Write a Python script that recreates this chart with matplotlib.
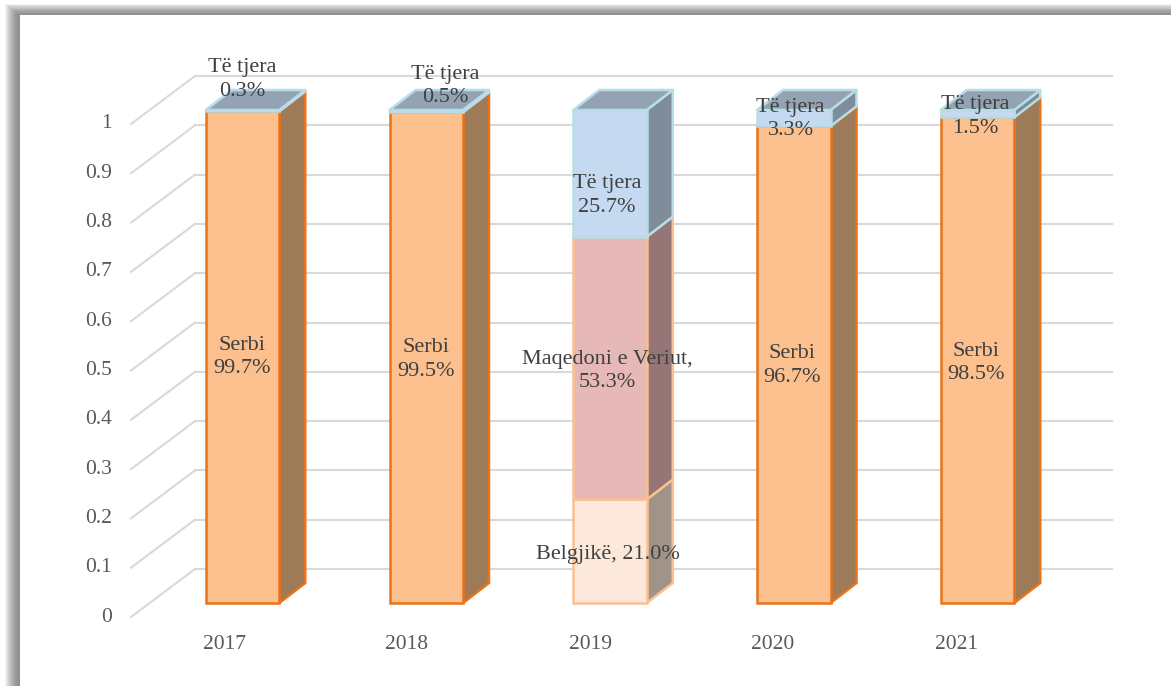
import numpy as np
import matplotlib
matplotlib.use("Agg")
import matplotlib.pyplot as plt
from matplotlib.patches import Polygon, Rectangle

plt.rcParams['font.family'] = ['Liberation Serif', 'DejaVu Serif']

# data
years = ['2017', '2018', '2019', '2020', '2021']
yticks = [0, 0.1, 0.2, 0.3, 0.4, 0.5, 0.6, 0.7, 0.8, 0.9, 1]
serbi = [0.997, 0.995, 0, 0.967, 0.985]
belgjike = [0, 0, 0.21, 0, 0]
maqedoni = [0, 0, 0.533, 0, 0]
tjera = [0.003, 0.005, 0.257, 0.033, 0.015]

names = ['Serbi', 'Belgjikë', 'Maqedoni e Veriut', 'Të tjera']
series = [serbi, belgjike, maqedoni, tjera]

# styles per series: front, side, edge
fronts = ['#FBC08E', '#FDE9DB', '#E6B8B7', '#C5D9F0']
sides = ['#9E7B58', '#A09488', '#957575', '#7F8C99']
edges = ['#E8731A', '#FAC090', '#FAC090', '#B7DDE8']
top_col = '#94A3B3'

# label offsets from the middle of the segment front, pixels (x right, y up)
offsets = {
    (0, 0): (0, 0), (1, 0): (0, -2), (3, 0): (-2, -1), (4, 0): (-2, -3),
    (0, 3): (0, 31), (1, 3): (19, 25),
    (2, 1): (-2, -3), (2, 2): (-3, -3), (2, 3): (-3, -22),
    (3, 3): (-3, -1), (4, 3): (-2, -3),
}

# pixel geometry of the reference
W, H = 1171, 686
left, right, top, bottom = 131, 1112, 76, 617
unit = 493.0       # pixels for 1.0
step = 183.75      # pixels between categories
x0_px = 242.5      # first bar
wall_dx, wall_dy = 64 / step, 48 / unit
bar_w = 73.5 / step
depth_x, depth_y = 26 / step, 20 / unit
front_y = 14 / unit

fig = plt.figure(figsize=(W / 100, H / 100), dpi=100)
fig.patch.set_facecolor('white')

# page shadow, top and left
shade = np.linspace(1, 0, 16) ** 1.6
for k, s in enumerate(shade):
    g = 0.56 + 0.44 * s
    x = (4 + k) / W
    y = 1 - (3 + k * 0.8) / H
    fig.add_artist(Rectangle((x, 0), 1.2 / W, y, transform=fig.transFigure, color=str(g), lw=0))
    fig.add_artist(Rectangle((x, y - 1.2 / H), 1 - x, 1.2 / H, transform=fig.transFigure, color=str(g), lw=0))
fig.add_artist(Rectangle((20 / W, 0), 1 - 20 / W, 1 - 15 / H, transform=fig.transFigure, color='white', lw=0))

ax = fig.add_axes([left / W, 1 - bottom / H, (right - left) / W, (bottom - top) / H])
ax.set_zorder(5)
ax.patch.set_visible(False)
ax.set_xlim((left - x0_px) / step, (right - x0_px) / step)
ax.set_ylim(0, (bottom - top) / unit)
for s in ax.spines.values():
    s.set_visible(False)

x = np.arange(len(years))
ax.set_yticks(yticks)
ax.set_yticklabels([f'{v:g}' for v in yticks], fontsize=15.5, color='#595959', va='center')
# year labels sit a little tighter than the bars in the reference
ax.set_xticks(x * 183 / step - 18.5 / step)
ax.set_xticklabels(years, fontsize=15.5, color='#595959')
ax.tick_params(axis='y', length=0, pad=13.5)
ax.tick_params(axis='x', length=0, pad=13)

# gridlines on wall and floor edge
xa = ax.get_xlim()[0]
xb = ax.get_xlim()[1]
for v in yticks:
    ax.plot([xa, xa + wall_dx], [v, v + wall_dy], color='#D9D9D9', lw=1.5, zorder=1, clip_on=False)
    ax.plot([xa + wall_dx, xb], [v + wall_dy, v + wall_dy], color='#D9D9D9', lw=1.5, zorder=1, clip_on=False)

# bars
for i in x:
    base = 0.0
    xl = i - bar_w / 2
    xr = i + bar_w / 2
    for j, vals in enumerate(series):
        v = vals[i]
        if v == 0:
            continue
        b = front_y + base
        t = b + v
        ax.add_patch(Polygon([(xr, b), (xr + depth_x, b + depth_y), (xr + depth_x, t + depth_y), (xr, t)],
                             fc=sides[j], ec=edges[j], lw=1.8, zorder=3, clip_on=False, joinstyle='round'))
        ax.add_patch(Rectangle((xl, b), bar_w, v, fc=fronts[j], ec=edges[j], lw=1.8, zorder=3,
                               clip_on=False))
        base += v
    t = front_y + base
    ax.add_patch(Polygon([(xl, t), (xl + depth_x, t + depth_y), (xr + depth_x, t + depth_y), (xr, t)],
                         fc=top_col, ec=edges[3], lw=1.8, zorder=4,
                         clip_on=False, joinstyle='round'))

# data labels
for i in x:
    base = 0.0
    for j, vals in enumerate(series):
        v = vals[i]
        if v == 0:
            continue
        if j == 1:
            txt = f'{names[j]}, {v * 100:.1f}%'
        elif j == 2:
            txt = f'{names[j]},\n{v * 100:.1f}%'
        else:
            txt = f'{names[j]}\n{v * 100:.1f}%'
        ax.annotate(txt, (i, front_y + base + v / 2), xytext=offsets.get((i, j), (0, 0)),
                    textcoords='offset pixels', ha='center', va='center', fontsize=16,
                    color='#404040', linespacing=1.32, zorder=6, annotation_clip=False)
        base += v

fig.savefig('out.png', dpi=100)
